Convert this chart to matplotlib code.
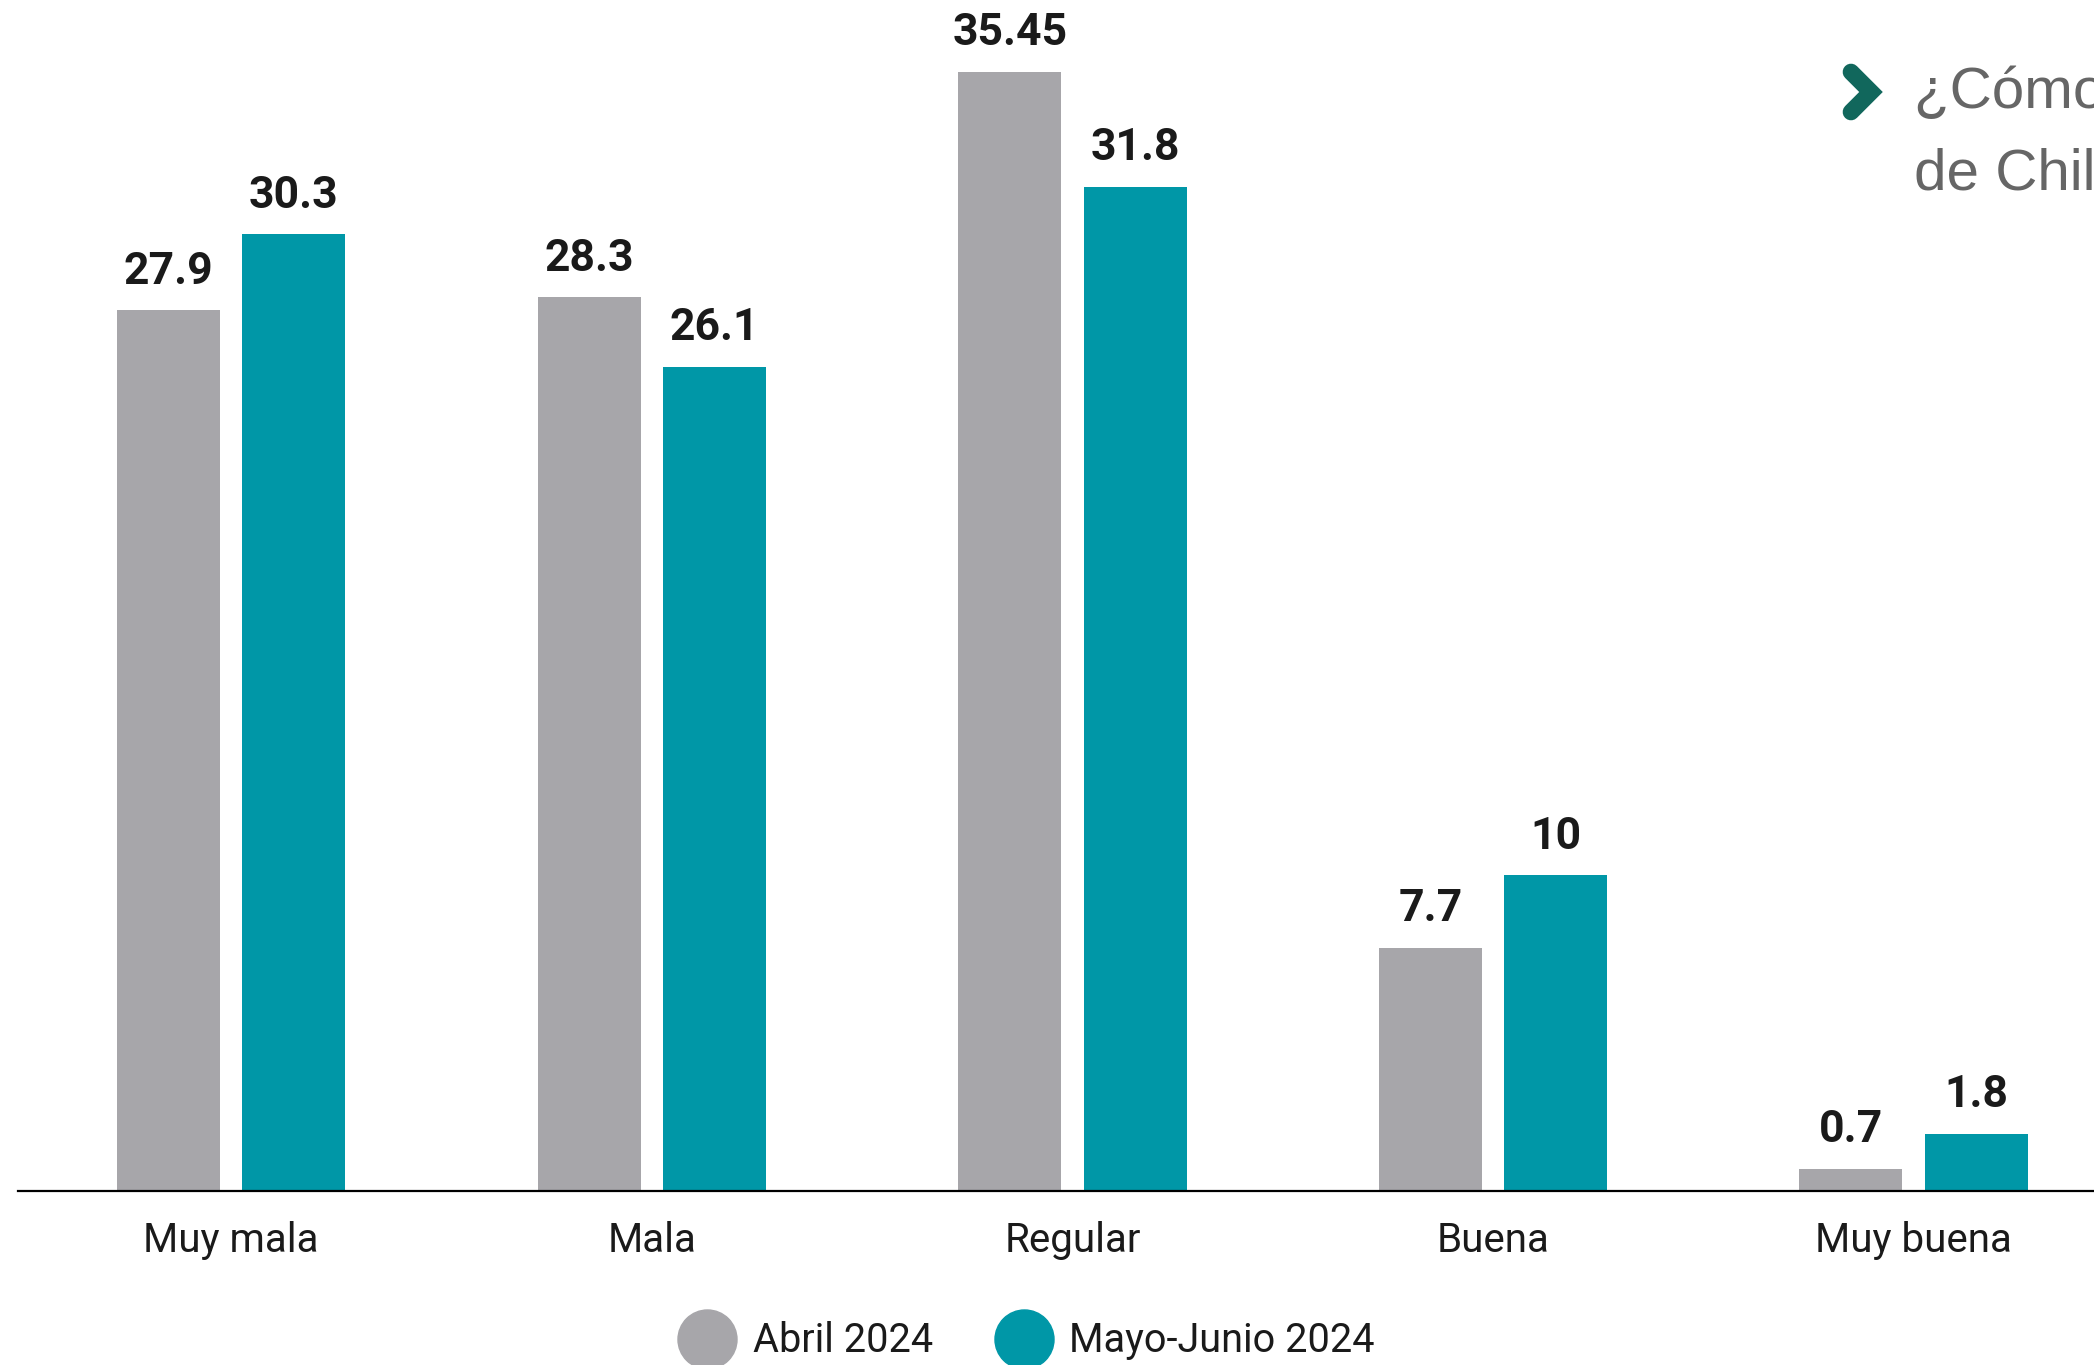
import numpy as np
import matplotlib.pyplot as plt
from matplotlib.lines import Line2D

categories = ["Muy mala", "Mala", "Regular", "Buena", "Muy buena"]
abril = [27.9, 28.3, 35.45, 7.7, 0.7]
mayo = [30.3, 26.1, 31.8, 10, 1.8]
series_names = ["Abril 2024", "Mayo-Junio 2024"]

GRAY = "#a7a6aa"
TEAL = "#0097a7"
TXT = "#1a1a1a"

plt.rcParams['font.family'] = ['Roboto', 'DejaVu Sans']

W, H = 2094, 1365
fig = plt.figure(figsize=(W / 100, H / 100), dpi=100)
ax = fig.add_axes([18 / W, 1 - 1190.7 / H, 1 - 18 / W, 1190.7 / H])

x = np.arange(len(categories))
bw = 0.245
off = 0.149
b1 = ax.bar(x - off, abril, bw, color=GRAY, label=series_names[0])
b2 = ax.bar(x + off, mayo, bw, color=TEAL, label=series_names[1])

for bars, vals in ((b1, abril), (b2, mayo)):
    for r, v in zip(bars, vals):
        ax.annotate(f"{v:g}", (r.get_x() + r.get_width() / 2, v),
                    xytext=(0, 19), textcoords="offset points",
                    ha="center", va="baseline", fontsize=32,
                    fontweight="bold", color=TXT)

ax.set_xlim(-0.507, 4.429)
ax.set_ylim(0, 1190.7 / 31.57)
ax.set_xticks(x)
ax.set_xticklabels(categories, fontsize=29, color=TXT)
ax.tick_params(axis="x", length=0, pad=22)
ax.set_yticks([])
for s in ("top", "right", "left"):
    ax.spines[s].set_visible(False)
ax.spines["bottom"].set_linewidth(1.6)
ax.spines["bottom"].set_color("black")

handles = [Line2D([], [], ls="none", marker="o", markersize=42.5,
                  markerfacecolor=c, markeredgecolor=c) for c in (GRAY, TEAL)]
fig.legend(handles, series_names, loc="center", bbox_to_anchor=(0.49, 1 - 1341 / H),
           ncol=2, frameon=False, fontsize=28.5, handlelength=1.5,
           handletextpad=0.4, columnspacing=1.55, labelcolor=TXT)

# chevron and the question text, cut by the right edge as in the source
fig.add_artist(Line2D([1851 / W, 1871 / W, 1851 / W],
                      [1 - 72 / H, 1 - 92 / H, 1 - 112 / H],
                      color="#11675c", lw=12, solid_capstyle="round",
                      solid_joinstyle="miter"))
qfont = ["Liberation Sans", "DejaVu Sans"]
fig.text(1914 / W, 1 - 108 / H, "¿Cómo calificaría la situación económica",
         fontsize=42, color="#666666", family=qfont, va="baseline")
fig.text(1914 / W, 1 - 190 / H, "de Chile?",
         fontsize=42, color="#666666", family=qfont, va="baseline")

fig.savefig("out.png", dpi=100)
